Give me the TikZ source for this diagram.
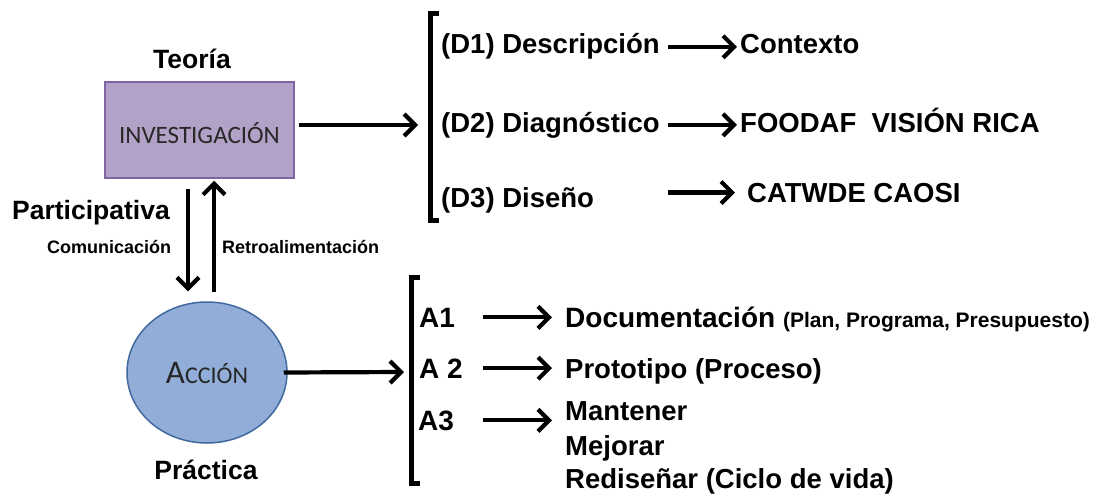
\documentclass[tikz,border=0pt]{standalone}
\usepackage{fontspec}
\setmainfont{Liberation Sans}
\newfontfamily\calfont{Carlito}
\usetikzlibrary{arrows.meta,shapes.geometric}
\newcommand\fsz[1]{\fontsize{#1pt}{#1pt}\selectfont}
\definecolor{invfill}{RGB}{179,162,199}
\definecolor{invline}{RGB}{128,100,162}
\definecolor{accfill}{RGB}{146,174,216}
\definecolor{accline}{RGB}{65,105,160}
\definecolor{boxtext}{RGB}{40,40,40}

\begin{document}
\begin{tikzpicture}[x=1pt,y=-1pt,
  arr/.style={line width=4.2pt, -{Straight Barb[length=11pt,width=22pt]}},
  brk/.style={line width=5pt, line join=miter},
  head/.style={inner sep=0pt, font=\bfseries\fsz{26.5}},
  small/.style={inner sep=0pt, anchor=base west, font=\bfseries\fsz{18}},
  item/.style={inner sep=0pt, anchor=base west, font=\bfseries\fsz{27.5}},
  alab/.style={inner sep=0pt, anchor=base west, font=\bfseries\fsz{28}},
]
\useasboundingbox (0,0) rectangle (1102,495);

% ---- research box and its labels
\node[head, anchor=base] (teoria) at (192,68) {Teoría};
\node[draw=invline, line width=1.5pt, fill=invfill,
      minimum width=189pt, minimum height=96pt,
      text height=26pt, text depth=0pt,
      font=\calfont\fsz{25}, text=boxtext] (inv) at (199.5,130) {INVESTIGACIÓN};

\node[head, anchor=base west] (part) at (12,219) {Participativa};
\node[small] (com) at (47,253) {Comunicación};
\node[small] (retro) at (222,253) {Retroalimentación};

% ---- action ellipse
\node[ellipse, draw=accline, line width=1.5pt, fill=accfill,
      minimum width=160pt, minimum height=141pt, inner sep=0pt, text=black!85]
      (acc) at (207,372.5) {\calfont\fsz{33}A\fsz{24}CCIÓN};
\node[head, anchor=base] (prac) at (206,479) {Práctica};

% ---- feedback loop between theory and practice
\draw[arr, shorten <=10pt, shorten >=10pt]
  ([xshift=-11.5pt]inv.south) -- ([xshift=-11.5pt]inv.south |- acc.north);
\draw[arr, shorten <=9pt, shorten >=2pt]
  ([xshift=14.5pt]inv.south |- acc.north) -- ([xshift=14.5pt]inv.south);

% ---- diagnosis bracket
\coordinate (dbr) at (418,125);
\draw[arr, shorten <=4pt] ([yshift=5pt]inv.east) -- (dbr);
\draw[brk] (439,14) -- (430,14) -- (430,220) -- (439,220);

\node[item] (d1) at (441,54) {(D1) Descripción};
\node[item] (d2) at (441,132) {(D2) Diagnóstico};
\node[item] (d3) at (441,207) {(D3) Diseño};
\node[item] (ctx) at (740,53) {Contexto};
\node[item] (foo) at (740,132) {FOODAF\ \ VISIÓN RICA};
\node[item] (cat) at (747,202) {CATWDE CAOSI};

\coordinate (dcol) at (668,0);
\draw[arr, shorten >=3pt] (d1.east -| dcol) -- (ctx.west |- d1.east);
\draw[arr, shorten >=3pt] (d2.east -| dcol) -- (foo.west |- d2.east);
\draw[arr, shorten >=12pt] (dcol |- cat.west) -- (cat.west);

% ---- action bracket
\coordinate (abr) at (404,372);
\draw[arr] ([xshift=-4pt]acc.east) -- (abr);
\draw[brk] (420,277) -- (411,277) -- (411,483) -- (420,483);

\node[alab] (a1) at (419,327) {A1};
\node[alab] (a2) at (419,378) {A 2};
\node[alab] (a3) at (418,430) {A3};

\node[item] (doc) at (565,327) {\fsz{28}Documentación \fsz{21}(Plan, Programa, Presupuesto)};
\node[item] (pro) at (565,378) {Prototipo (Proceso)};
\node[item] (man) at (565,420) {Mantener};
\node[item] (mej) at (565,455) {Mejorar};
\node[item] (red) at (565,488) {Rediseñar (Ciclo de vida)};

\coordinate (acol) at (483,0);
\draw[arr, shorten >=13pt] (a1.east -| acol) -- (doc.west |- a1.east);
\draw[arr, shorten >=13pt] (a2.east -| acol) -- (pro.west |- a2.east);
\draw[arr, shorten >=13pt] (a3.east -| acol) -- (man.west |- a3.east);
\end{tikzpicture}
\end{document}
